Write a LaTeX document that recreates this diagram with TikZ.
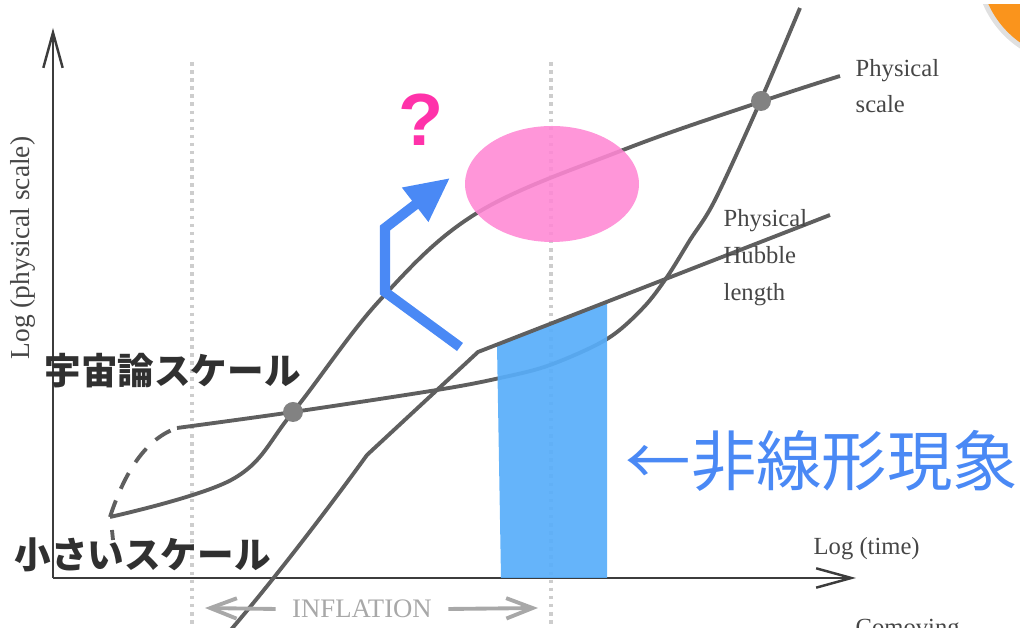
\documentclass[tikz,border=0pt]{standalone}
\usepackage{fontspec}
\setmainfont{Liberation Serif}
\newfontfamily\jpfont{Noto Sans CJK JP}
\newfontfamily\qfont{Liberation Sans}
\usepackage{xcolor}
\usetikzlibrary{arrows.meta}
\definecolor{curvegray}{RGB}{95,95,95}
\definecolor{axisgray}{RGB}{60,60,60}
\definecolor{dotgray}{RGB}{205,205,205}
\definecolor{markgray}{RGB}{130,130,130}
\definecolor{lblgray}{RGB}{70,70,70}
\definecolor{inflgray}{RGB}{168,168,168}
\definecolor{blobpink}{RGB}{255,135,212}
\definecolor{regionblue}{RGB}{88,174,250}
\definecolor{arrowblue}{RGB}{74,137,245}
\definecolor{qmagenta}{RGB}{255,50,170}
\definecolor{cornerorange}{RGB}{250,148,28}
\definecolor{jpdark}{RGB}{48,48,48}

\begin{document}
\begin{tikzpicture}[x=0.01cm,y=-0.01cm,
  curve/.style={curvegray,line width=1.1pt},
  axis/.style={axisgray,line width=0.7pt,-{Straight Barb[length=10pt,width=5.5pt]}},
  lbl/.style={lblgray,font=\fontsize{7}{8}\selectfont,inner sep=0,anchor=base west},
  jp/.style={jpdark,font=\jpfont\bfseries\fontsize{10.4}{12}\selectfont,inner sep=0,anchor=west},
  inflarrow/.style={inflgray,line width=1.1pt,-{Straight Barb[length=7.5pt,width=5.8pt]}}]
\useasboundingbox (0,0) rectangle (1020,628);
% orange corner of the slide
\begin{scope}
\clip (900,5) rectangle (1020,120);
\fill[black,opacity=0.12] (1075,-35) circle (100);
\fill[cornerorange] (1075,-35) circle (95);
\end{scope}
% dotted limits of inflation
\foreach \xd in {192,551}
  \draw[dotgray,line width=1pt,dash pattern=on 1pt off 1.3pt] (\xd,62) -- (\xd,628);
% axes
\coordinate (origin) at (53,578);
\coordinate (ytip) at (53,28);
\coordinate (xtip) at (856,578);
\draw[axis] (origin) -- (ytip);
\draw[axis] (origin) -- (xtip);
% physical scale
\draw[curve,smooth,tension=0.6] plot coordinates {(110,517) (233,479) (293,412)
  (380,300) (477,213) (623,150) (760,102) (840,76)};
% steep scale
\draw[curve,smooth,tension=0.55] plot coordinates {(177,428) (293,412) (437,390)
  (500,378) (550,365) (607,339) (643,308) (667,277) (690,240) (715,200) (760,102) (800,8)};
\draw[curve,dash pattern=on 5pt off 3.6pt] (110,517) .. controls (122,480) and (142,440) .. (177,428);
\draw[curve] (112,530) -- (113,540);
% nonlinear band
\fill[regionblue,opacity=0.92] (497,345) -- (607,302) -- (607,578) -- (501,578) -- cycle;
% physical Hubble length
\draw[curve] (222,640) .. controls (260,597) and (320,520) .. (367,455) -- (478,352) -- (830,215);
% blob
\fill[blobpink,opacity=0.88] (552,184) ellipse [x radius=87, y radius=58];
% crossings
\foreach \p in {(293,412),(761,101)}
  \fill[markgray] \p circle (10);
% blue arrow
\draw[arrowblue,line width=2.85pt,-{Triangle[length=12.5pt,width=11.5pt]}]
  (460,347) -- (385,292) -- (385,228) -- (450,178);
\node[qmagenta,font=\qfont\bfseries\fontsize{21}{24}\selectfont,inner sep=0] (quest) at (421,120) {?};
% labels
\node[lbl] (phys1) at (855,77) {Physical};
\node[lbl] (phys2) at (855,113) {scale};
\node[lbl] (hub1) at (723,227) {Physical};
\node[lbl] (hub2) at (723,264) {Hubble};
\node[lbl] (hub3) at (723,301) {length};
\node[lbl] (tlbl) at (813,555) {Log (time)};
\node[lbl] (comov) at (855,636) {Comoving};
\node[lblgray,font=\fontsize{7.8}{9}\selectfont,inner sep=0,anchor=base,rotate=90] (ylbl) at (30,248) {Log (physical scale)};
% inflation
\node[inflgray,font=\fontsize{7.6}{9}\selectfont,inner ysep=0,inner xsep=4.5pt] (infl) at (362,609) {INFLATION};
\coordinate (inflL) at (205,608);
\coordinate (inflR) at (538,608);
\draw[inflarrow] (infl.west) -- (inflL);
\draw[inflarrow] (infl.east) -- (inflR);
% Japanese labels
\node[jp] (cosmo) at (44,371) {宇宙論スケール};
\node[jp] (small) at (14,555) {小さいスケール};
\node[arrowblue,font=\jpfont\fontsize{18.6}{20}\selectfont,inner sep=0,anchor=west] (nonlin) at (625,461) {←非線形現象};
\end{tikzpicture}
\end{document}
